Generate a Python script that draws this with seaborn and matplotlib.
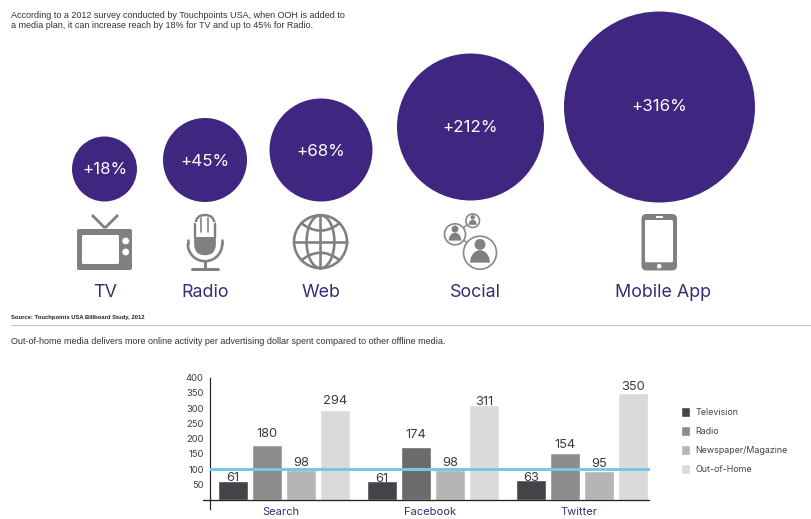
import numpy as np
import pandas as pd
import matplotlib
matplotlib.use("Agg")
import matplotlib.pyplot as plt
from matplotlib.patches import Circle, Ellipse, FancyBboxPatch, Rectangle
from matplotlib.transforms import ScaledTranslation
import seaborn as sns

# top panel: reach lift per medium
MEDIA = ["TV", "Radio", "Web", "Social", "Mobile App"]
LIFTS = [18, 45, 68, 212, 316]

# bottom panel: online activity per ad dollar
PLATFORMS = ["Search", "Facebook", "Twitter"]
TELEVISION = [61, 61, 63]
RADIO = [180, 174, 154]
NEWSPAPER = [98, 98, 95]
OUT_OF_HOME = [294, 311, 350]
SERIES_NAMES = ["Television", "Radio", "Newspaper/Magazine", "Out-of-Home"]
Y_TICKS = [50, 100, 150, 200, 250, 300, 350, 400]

# layout, in reference pixels
W, H = 812, 519
BUBBLE_X = [104.5, 205, 321, 470.5, 659.5]
BUBBLE_Y = [169, 160, 150, 127, 107]
BUBBLE_D = [65, 84, 103, 147, 191]
BUBBLE_TEXT_DY = [1, 1, 1, 0.5, -0.5]
LABEL_X = [105, 205, 321, 475, 663]
# value label offset above each bar, points, per series and platform
LABEL_PADS = [[-2.3, -2.6, -2.3], [3.7, 3.7, 1.3], [0.6, 0.6, 0.6], [2.0, -2.3, 0.0]]

PURPLE = "#3f2680"
TEXT_PURPLE = "#3a2c74"
ICON = "#808082"
BAR_COLORS = ["#434447", "#8d8d8f", "#b5b5b7", "#dadadc"]
LINE_BLUE = "#74c9e6"
DARK = "#3c3c3e"
PX = 0.72  # points per pixel at dpi 100


def draw_tv(ax):
    for tip in (92, 118):
        ax.plot([tip, 105], [215, 228], color=ICON, lw=2.8 * PX, solid_capstyle="butt")
    ax.add_patch(FancyBboxPatch((79, 231), 51, 37, boxstyle="round,pad=2", fc=ICON, ec="none"))
    ax.add_patch(FancyBboxPatch((83.5, 236.5), 34, 26, boxstyle="round,pad=1.5", fc="white", ec="none"))
    for y in (241, 252):
        ax.add_patch(Circle((125.7, y), 3.4, fc="white", ec="none"))


def draw_mic(ax):
    lw = 2.4 * PX
    ax.add_patch(FancyBboxPatch((195.5, 215), 19, 39, boxstyle="round,pad=0,rounding_size=9.5",
                                fc="white", ec=ICON, lw=lw))
    ax.add_patch(FancyBboxPatch((194.5, 225), 21, 30, boxstyle="round,pad=0,rounding_size=10.5",
                                fc=ICON, ec="none"))
    ax.add_patch(Rectangle((194.5, 222), 21, 15, fc="white", ec="none"))
    ax.plot([194.9, 194.9], [224, 237], color=ICON, lw=lw)
    ax.plot([215.3, 215.3], [224, 237], color=ICON, lw=lw)
    for x in (201.5, 208.5):
        ax.plot([x, x], [218, 232], color=ICON, lw=1.6 * PX)
    theta = np.linspace(0, np.pi, 40)
    ax.plot(205 + 17.2 * np.cos(theta), 244 + 17.2 * np.sin(theta), color=ICON, lw=2.6 * PX)
    ax.plot([187.8, 187.8], [240, 244], color=ICON, lw=2.6 * PX)
    ax.plot([222.2, 222.2], [240, 244], color=ICON, lw=2.6 * PX)
    ax.plot([205, 205], [261, 268], color=ICON, lw=3 * PX)
    ax.plot([192, 218], [268.5, 268.5], color=ICON, lw=3 * PX, solid_capstyle="round")


def draw_globe(ax):
    cx, cy, r = 320.5, 241.7, 26.5
    lw = 2.6 * PX
    ax.add_patch(Circle((cx, cy), r, fc="none", ec=ICON, lw=lw))
    ax.add_patch(Ellipse((cx, cy), r * 1.05, 2 * r, fc="none", ec=ICON, lw=lw))
    ax.plot([cx, cx], [cy - r, cy + r], color=ICON, lw=lw)
    ax.plot([cx - r, cx + r], [cy, cy], color=ICON, lw=lw)
    for sign in (-1, 1):
        t = np.linspace(-1, 1, 30)
        half = r * 0.72
        ax.plot(cx + half * t, cy + sign * (r * 0.42 + r * 0.28 * t ** 2), color=ICON, lw=lw)


def draw_person(ax, cx, cy, r):
    ax.add_patch(Circle((cx, cy), r, fc="white", ec="#8a8a8c", lw=1.7 * PX))
    ax.add_patch(Circle((cx, cy - r * 0.5), r * 0.33, fc=ICON, ec="none"))
    theta = np.linspace(0, np.pi, 30)
    ax.fill(cx + r * 0.6 * np.cos(theta), cy + r * 0.6 - r * 0.75 * np.sin(theta), color=ICON, lw=0)


def draw_social(ax):
    ax.plot([455, 480], [234, 252], color="#8a8a8c", lw=1.5 * PX, zorder=0.5)
    ax.plot([455, 472.7], [234, 220.7], color="#8a8a8c", lw=1.5 * PX, zorder=0.5)
    draw_person(ax, 480, 252.7, 16.5)
    draw_person(ax, 455, 234.3, 10.5)
    draw_person(ax, 472.7, 220.7, 6.8)


def draw_phone(ax):
    ax.add_patch(FancyBboxPatch((641.5, 214), 35.5, 56.5, boxstyle="round,pad=0,rounding_size=5",
                                fc=ICON, ec="none"))
    ax.add_patch(FancyBboxPatch((645, 220), 28, 42.3, boxstyle="round,pad=0,rounding_size=1.5",
                                fc="white", ec="none"))
    ax.add_patch(Rectangle((656, 216.3), 7, 2, fc="white", ec="none"))
    ax.add_patch(Circle((659.2, 266.2), 2.3, fc="white", ec="none"))


def draw_top(ax):
    ax.set_xlim(0, W)
    ax.set_ylim(H, 0)
    ax.axis("off")

    sizes = {v: (d * PX) ** 2 for v, d in zip(LIFTS, BUBBLE_D)}
    sns.scatterplot(x=BUBBLE_X, y=BUBBLE_Y, size=LIFTS, sizes=sizes, color=PURPLE,
                    linewidth=0, legend=False, ax=ax)
    for x, y, dy, v in zip(BUBBLE_X, BUBBLE_Y, BUBBLE_TEXT_DY, LIFTS):
        ax.text(x, y + dy, f"+{v}%", color="white", fontsize=12.2, family="Inter",
                ha="center", va="center")
    for x, name in zip(LABEL_X, MEDIA):
        ax.text(x, 292.5, name, color=TEXT_PURPLE, fontsize=12.9, family="Inter",
                ha="center", va="center")

    draw_tv(ax)
    draw_mic(ax)
    draw_globe(ax)
    draw_social(ax)
    draw_phone(ax)

    sans = "Liberation Sans"
    ax.text(11, 15, "According to a 2012 survey conducted by Touchpoints USA, when OOH is added to",
            fontsize=6.45, color="#333333", va="center", family=sans)
    ax.text(11, 26, "a media plan, it can increase reach by 18% for TV and up to 45% for Radio.",
            fontsize=6.45, color="#333333", va="center", family=sans)
    ax.text(11, 317.5, "Source: Touchpoints USA Billboard Study, 2012", fontsize=4.25,
            color="#222222", va="center", fontweight="bold", family=sans)
    ax.plot([11, W], [325, 325], color="#c4c4c4", lw=1.1 * PX)
    ax.text(11, 341.5, "Out-of-home media delivers more online activity per advertising dollar spent "
            "compared to other offline media.", fontsize=6.5, color="#333333", va="center", family=sans)


def draw_bars(ax):
    df = pd.DataFrame({
        "platform": PLATFORMS * 4,
        "media": np.repeat(SERIES_NAMES, 3),
        "value": TELEVISION + RADIO + NEWSPAPER + OUT_OF_HOME,
    })
    sns.barplot(data=df, x="platform", y="value", hue="media", hue_order=SERIES_NAMES,
                palette=BAR_COLORS, saturation=1, width=0.913, gap=0.12, ax=ax)
    # the Facebook radio bar is a darker grey in the original
    ax.containers[1][1].set_facecolor("#6b6b6d")

    ax.set_xlim(-0.494, 2.457)
    ax.set_ylim(-31, 400)
    ax.set_xlabel("")
    ax.set_ylabel("")
    ax.set_yticks(Y_TICKS)
    ax.patch.set_visible(False)
    for side in ("top", "right", "bottom"):
        ax.spines[side].set_visible(False)
    ax.spines["left"].set_color("#222222")
    ax.spines["left"].set_linewidth(1.2 * PX)

    ax.tick_params(axis="y", length=3.2, width=0.8, color="#222222", pad=1.5,
                   labelsize=6.8, labelcolor=DARK)
    ax.tick_params(axis="x", length=0, pad=-1.5, labelsize=8, labelcolor=TEXT_PURPLE)
    # group labels sit a little left of their bars in the original
    nudge = ScaledTranslation(-3.2 * PX / 72, 0, ax.figure.dpi_scale_trans)
    for lab in ax.get_xticklabels():
        lab.set_transform(lab.get_transform() + nudge)

    ax.axhline(0, xmin=-0.016, xmax=0.998, color="#222222", lw=1.3 * PX, clip_on=False, zorder=4)
    ax.axhline(100, color=LINE_BLUE, lw=3 * PX, zorder=5)

    for cont, pads in zip(ax.containers, LABEL_PADS):
        labels = ax.bar_label(cont, fontsize=9.3, color=DARK, zorder=6)
        for ann, pad in zip(labels, pads):
            ann.xyann = (0, pad)

    ax.legend(frameon=False, loc="upper left", bbox_to_anchor=(1.057, 0.822), borderaxespad=0.7,
              handlelength=1.0, handleheight=1.35, handletextpad=0.55, labelspacing=0.99,
              fontsize=6.4, labelcolor="#444444", borderpad=0)


def main():
    sns.set_theme(style="white")
    plt.rcParams["font.family"] = ["Inter", "DejaVu Sans"]

    fig = plt.figure(figsize=(W / 100, H / 100), dpi=100)
    top = fig.add_axes([0, 0, 1, 1])
    draw_top(top)

    left, right, ytop, ybot = 210.3, 650, 377.7, 509
    bars = fig.add_axes([left / W, 1 - ybot / H, (right - left) / W, (ybot - ytop) / H])
    draw_bars(bars)

    fig.savefig("out.png", dpi=100)
    plt.close(fig)


if __name__ == "__main__":
    main()
